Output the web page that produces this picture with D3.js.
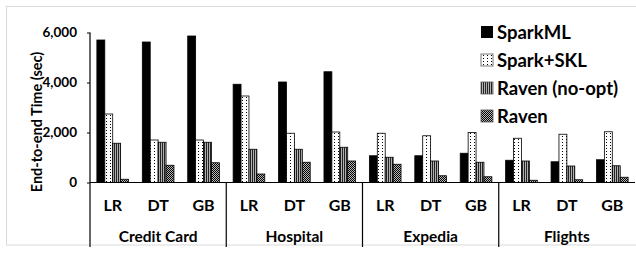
<!DOCTYPE html>
<html>
<head>
<meta charset="utf-8">
<script src="https://cdn.jsdelivr.net/npm/d3@7"></script>
<style>
  body { margin: 0; background: #fff; }
  text { font-family: Lato, "Open Sans", sans-serif; font-weight: bold; fill: #000; }
</style>
</head>
<body>
<div id="chart-area"></div>
<script>
const groups = ["Credit Card", "Hospital", "Expedia", "Flights"]
const models = ["LR", "DT", "GB"]
const seriesNames = ["SparkML", "Spark+SKL", "Raven (no-opt)", "Raven"]
const yTicks = [0, 2000, 4000, 6000]

// values per group, in the order LR, DT, GB
const sparkML = [[5700, 5620, 5860], [3930, 4020, 4430], [1070, 1070, 1170], [890, 830, 910]]
const sparkSKL = [[2740, 1700, 1700], [3460, 1970, 2020], [1970, 1870, 2000], [1770, 1930, 2030]]
const ravenNoOpt = [[1570, 1610, 1610], [1330, 1330, 1410], [1010, 860, 810], [860, 660, 670]]
const raven = [[130, 690, 790], [340, 810, 860], [730, 270, 230], [90, 110, 210]]

const seriesValues = [sparkML, sparkSKL, ravenNoOpt, raven]

const WIDTH = 636
const HEIGHT = 255
const PLOT = {LEFT: 90, RIGHT: 635, TOP: 32.5, ZERO: 182.5, BOTTOM: 247}

const svg = d3.select("#chart-area").append("svg")
  .attr("width", WIDTH)
  .attr("height", HEIGHT)

// patterns for the bars
const defs = svg.append("defs")

const dots = defs.append("pattern").attr("id", "p-dots")
  .attr("patternUnits", "userSpaceOnUse").attr("width", 4).attr("height", 3)
dots.append("rect").attr("width", 4).attr("height", 3).attr("fill", "#fff")
dots.append("rect").attr("x", 2).attr("y", 1).attr("width", 1).attr("height", 1).attr("fill", "#000")

const stripes = defs.append("pattern").attr("id", "p-stripes")
  .attr("patternUnits", "userSpaceOnUse").attr("width", 2).attr("height", 2)
stripes.append("rect").attr("width", 2).attr("height", 2).attr("fill", "#b0b0b0")
stripes.append("rect").attr("width", 1).attr("height", 2).attr("fill", "#222")

const checks = defs.append("pattern").attr("id", "p-checks")
  .attr("patternUnits", "userSpaceOnUse").attr("width", 2).attr("height", 2)
checks.append("rect").attr("width", 2).attr("height", 2).attr("fill", "#b8b8b8")
checks.append("rect").attr("width", 1).attr("height", 1).attr("fill", "#000")
checks.append("rect").attr("x", 1).attr("y", 1).attr("width", 1).attr("height", 1).attr("fill", "#000")

const fills = ["#000", "url(#p-dots)", "url(#p-stripes)", "url(#p-checks)"]

// light frame around the chart
svg.append("rect")
  .attr("x", 6.5).attr("y", 6.5)
  .attr("width", 640).attr("height", 238.5)
  .attr("fill", "none")
  .attr("stroke", "#d9d9d9")

// scales
const x0 = d3.scaleBand()
  .domain(groups)
  .range([PLOT.LEFT, PLOT.RIGHT])

const x1 = d3.scaleBand()
  .domain(models)
  .range([0, x0.bandwidth()])

const x2 = d3.scaleBand()
  .domain(seriesNames)
  .range([0, x1.bandwidth()])
  .paddingInner(0)
  .paddingOuter(0.87)

const y = d3.scaleLinear()
  .domain([0, 6000])
  .range([PLOT.ZERO, PLOT.TOP])

// y axis
const yAxisCall = d3.axisLeft(y)
  .tickValues(yTicks)
  .tickSize(3)
  .tickFormat(d3.format(","))

const yAxis = svg.append("g")
  .attr("transform", `translate(${PLOT.LEFT}, 0)`)
  .call(yAxisCall)
yAxis.select(".domain").remove()
yAxis.selectAll("line").attr("stroke", "#000")
yAxis.selectAll("text")
  .attr("x", -13)
  .attr("font-size", "13.5px")
  .style("font-family", "Lato, sans-serif")
  .style("font-weight", "bold")

// y label
svg.append("text")
  .attr("transform", "rotate(-90)")
  .attr("x", -122)
  .attr("y", 42)
  .attr("text-anchor", "middle")
  .attr("font-size", "14.5px")
  .text("End-to-end Time (sec)")

// bars
const flat = []
groups.forEach((g, gi) => {
  models.forEach((m, mi) => {
    seriesNames.forEach((s, si) => {
      flat.push({group: g, model: m, series: s, si: si, value: seriesValues[si][gi][mi]})
    })
  })
})

svg.append("g").selectAll("rect").data(flat)
  .enter().append("rect")
  .attr("x", d => x0(d.group) + x1(d.model) + x2(d.series))
  .attr("y", d => y(d.value))
  .attr("width", x2.bandwidth())
  .attr("height", d => PLOT.ZERO - y(d.value))
  .attr("fill", d => fills[d.si])
  .attr("stroke", "#000")
  .attr("stroke-width", 0.8)

// x axis: baseline, axis line and group separators
svg.append("line")
  .attr("x1", PLOT.LEFT).attr("x2", PLOT.RIGHT)
  .attr("y1", PLOT.ZERO).attr("y2", PLOT.ZERO)
  .attr("stroke", "#000").attr("stroke-width", 1.2)

svg.append("line")
  .attr("x1", PLOT.LEFT).attr("x2", PLOT.LEFT)
  .attr("y1", PLOT.TOP).attr("y2", PLOT.BOTTOM)
  .attr("stroke", "#000").attr("stroke-width", 1.2)

svg.append("g").selectAll("line").data(groups.slice(1))
  .enter().append("line")
  .attr("x1", d => x0(d)).attr("x2", d => x0(d))
  .attr("y1", PLOT.ZERO).attr("y2", PLOT.BOTTOM)
  .attr("stroke", "#000").attr("stroke-width", 1.2)

// model labels
groups.forEach(g => {
  svg.append("g").selectAll("text").data(models)
    .enter().append("text")
    .attr("x", d => x0(g) + x1(d) + x1.bandwidth() / 2)
    .attr("y", 210.5)
    .attr("text-anchor", "middle")
    .attr("font-size", "16px")
    .text(d => d)
})

// group labels
svg.append("g").selectAll("text").data(groups)
  .enter().append("text")
  .attr("x", d => x0(d) + x0.bandwidth() / 2)
  .attr("y", 241.5)
  .attr("text-anchor", "middle")
  .attr("font-size", "15.5px")
  .text(d => d)

// legend
const legend = svg.append("g").selectAll("g").data(seriesNames)
  .enter().append("g")
  .attr("transform", (d, i) => `translate(481, ${32 + i * 28})`)

legend.append("rect")
  .attr("x", 0).attr("y", -6)
  .attr("width", 12).attr("height", 12)
  .attr("fill", (d, i) => fills[i])
  .attr("stroke", (d, i) => i === 0 ? "none" : "#555")
  .attr("stroke-width", 0.8)

legend.append("text")
  .attr("x", 16)
  .attr("y", 6.5)
  .attr("font-size", "18.5px")
  .text(d => d)
</script>
</body>
</html>
